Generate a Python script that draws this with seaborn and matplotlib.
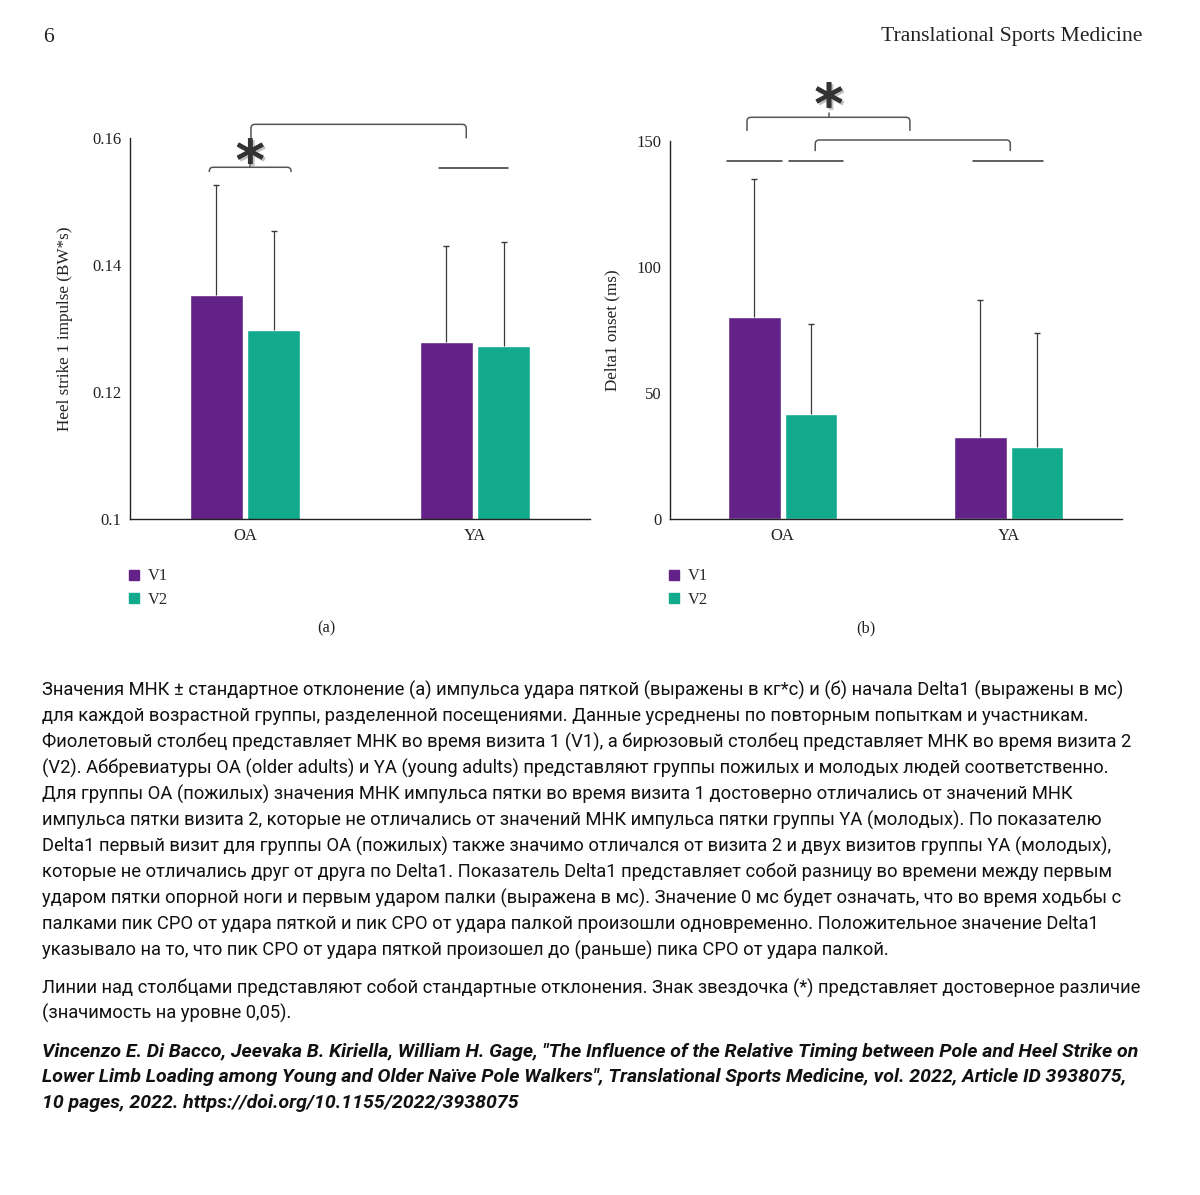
import numpy as np
import pandas as pd
import matplotlib
matplotlib.use("Agg")
import matplotlib.pyplot as plt
import seaborn as sns
from matplotlib.lines import Line2D
from matplotlib.path import Path
from matplotlib.patches import PathPatch
import matplotlib.patheffects as pe

# ---------------- data ----------------
groups = ["OA", "YA"]
visits = ["V1", "V2"]

impulse_v1 = [0.1352, 0.1278]
impulse_v2 = [0.1298, 0.1272]
impulse_sd_v1 = [0.0173, 0.0151]
impulse_sd_v2 = [0.0155, 0.0164]

delta_v1 = [80.1, 32.8]
delta_v2 = [41.6, 28.7]
delta_sd_v1 = [55.0, 54.2]
delta_sd_v2 = [35.8, 45.0]

yticks_a = [0.1, 0.12, 0.14, 0.16]
ytick_labels_a = ["0.1", "0.12", "0.14", "0.16"]
yticks_b = [0, 50, 100, 150]
ytick_labels_b = ["0", "50", "100", "150"]

ylabel_a = "Heel strike 1 impulse (BW*s)"
ylabel_b = "Delta1 onset (ms)"

# significance annotations (data coordinates): x0, x1, y_top, y_bottom
brackets_a = [(-0.155, 0.200, 0.15535, 0.1546), (0.026, 0.962, 0.1621, 0.1599)]
star_ticks_a = [(0.023, 0.15535, 0.1561)]
stars_a = [(0.023, 0.1558)]
plain_lines_a = [(0.843, 1.142, 0.1553)]

brackets_b = [(-0.158, 0.563, 159.4, 154.0), (0.144, 1.007, 150.4, 146.0)]
star_ticks_b = [(0.205, 159.4, 161.0)]
stars_b = [(0.205, 163.0)]
plain_lines_b = [(-0.245, -0.002, 142.0), (0.030, 0.267, 142.0), (0.843, 1.150, 142.0)]

caption_lines = [
    "Значения МНК ± стандартное отклонение (а) импульса удара пяткой (выражены в кг*с) и (б) начала Delta1 (выражены в мс)",
    "для каждой возрастной группы, разделенной посещениями. Данные усреднены по повторным попыткам и участникам.",
    "Фиолетовый столбец представляет МНК во время визита 1 (V1), а бирюзовый столбец представляет МНК во время визита 2",
    "(V2). Аббревиатуры OA (older adults) и YA (young adults) представляют группы пожилых и молодых людей соответственно.",
    "Для группы OA (пожилых) значения МНК импульса пятки во время визита 1 достоверно отличались от значений МНК",
    "импульса пятки визита 2, которые не отличались от значений МНК импульса пятки группы YA (молодых). По показателю",
    "Delta1 первый визит для группы OA (пожилых) также значимо отличался от визита 2 и двух визитов группы YA (молодых),",
    "которые не отличались друг от друга по Delta1. Показатель Delta1 представляет собой разницу во времени между первым",
    "ударом пятки опорной ноги и первым ударом палки (выражена в мс). Значение 0 мс будет означать, что во время ходьбы с",
    "палками пик СРО от удара пяткой и пик СРО от удара палкой произошли одновременно. Положительное значение Delta1",
    "указывало на то, что пик СРО от удара пяткой произошел до (раньше) пика СРО от удара палкой.",
    "Линии над столбцами представляют собой стандартные отклонения. Знак звездочка (*) представляет достоверное различие",
    "(значимость на уровне 0,05).",
]
citation_lines = [
    "Vincenzo E. Di Bacco, Jeevaka B. Kiriella, William H. Gage, \"The Influence of the Relative Timing between Pole and Heel Strike on",
    "Lower Limb Loading among Young and Older Naïve Pole Walkers\", Translational Sports Medicine, vol. 2022, Article ID 3938075,",
    "10 pages, 2022. https://doi.org/10.1155/2022/3938075",
]
header_left = "6"
header_right = "Translational Sports Medicine"

# ---------------- style ----------------
PURPLE = "#622287"
TEAL = "#12AA8D"
W, H = 1200, 1195

sns.set_style("white")
SERIF = ["Liberation Serif", "DejaVu Serif"]
SANS = ["Roboto", "DejaVu Sans"]
plt.rcParams["font.family"] = SERIF

fig = plt.figure(figsize=(W / 100, H / 100), dpi=100)


def fx(px):
    return px / W


def fy(py):
    return 1 - py / H


ax_a = fig.add_axes([fx(130), fy(519.3), fx(590) - fx(130), fy(137.7) - fy(519.3)])
ax_b = fig.add_axes([fx(669.7), fy(519.3), fx(1121.7) - fx(669.7), fy(141) - fy(519.3)])


def make_df(v1, v2):
    return pd.DataFrame({
        "group": groups * 2,
        "visit": [visits[0]] * 2 + [visits[1]] * 2,
        "value": list(v1) + list(v2),
    })


def draw_panel(ax, v1, v2, sd1, sd2, ylim, yticks, ylabels, ylabel, label_x):
    df = make_df(v1, v2)
    sns.barplot(data=df, x="group", y="value", hue="visit", order=groups, hue_order=visits,
                palette=[PURPLE, TEAL], saturation=1, width=0.5, gap=0.07,
                errorbar=None, legend=False, ax=ax)
    patches = sorted(ax.patches, key=lambda p: p.get_x())
    xs = np.array([p.get_x() + p.get_width() / 2 for p in patches])
    hs = np.array([p.get_height() for p in patches])
    sds = np.array([sd1[0], sd2[0], sd1[1], sd2[1]])
    _, caps, _ = ax.errorbar(xs, hs, yerr=[np.zeros_like(sds), sds], fmt="none",
                             ecolor="#3a3a3a", elinewidth=0.9, capsize=2.5, capthick=1.0,
                             zorder=3)
    for c in caps:
        if np.allclose(c.get_ydata(), hs):
            c.set_visible(False)
    ax.set_xlim(-0.5, 1.5)
    ax.set_ylim(*ylim)
    ax.set_yticks(yticks)
    ax.set_yticklabels(ylabels)
    ax.set_xlabel("")
    ax.set_ylabel(ylabel, fontsize=12.3, color="#222222")
    ax.yaxis.set_label_coords(label_x, 0.5)
    ax.tick_params(axis="both", length=0, labelsize=12, colors="#222222")
    ax.tick_params(axis="y", pad=6)
    ax.tick_params(axis="x", pad=6)
    for s in ["top", "right"]:
        ax.spines[s].set_visible(False)
    for s in ["left", "bottom"]:
        ax.spines[s].set_color("#222222")
        ax.spines[s].set_linewidth(1.0)


draw_panel(ax_a, impulse_v1, impulse_v2, impulse_sd_v1, impulse_sd_v2, (0.1, 0.16),
           yticks_a, ytick_labels_a, ylabel_a, (73 - 130) / 460)
draw_panel(ax_b, delta_v1, delta_v2, delta_sd_v1, delta_sd_v2, (0, 150),
           yticks_b, ytick_labels_b, ylabel_b, (620 - 669.7) / 452)


def px_to_data(ax, dx_px, dy_px):
    bb = ax.get_window_extent()
    x0, x1 = ax.get_xlim()
    y0, y1 = ax.get_ylim()
    return dx_px * (x1 - x0) / bb.width, dy_px * (y1 - y0) / bb.height


def draw_bracket(ax, x0, x1, ytop, ybot, color="#555555"):
    rx, ry = px_to_data(ax, 4, 4)
    ry = min(ry, (ytop - ybot) * 0.8)
    verts = [(x0, ybot), (x0, ytop - ry), (x0, ytop), (x0 + rx, ytop),
             (x1 - rx, ytop), (x1, ytop), (x1, ytop - ry), (x1, ybot)]
    codes = [Path.MOVETO, Path.LINETO, Path.CURVE3, Path.CURVE3,
             Path.LINETO, Path.CURVE3, Path.CURVE3, Path.LINETO]
    ax.add_patch(PathPatch(Path(verts, codes), fill=False, edgecolor=color, lw=1.1,
                           clip_on=False, zorder=4))


def annotate(ax, brackets, ticks, stars, lines):
    for b in brackets:
        draw_bracket(ax, *b)
    for (x, y0, y1) in ticks:
        ax.plot([x, x], [y0, y1], color="#555555", lw=1.1, clip_on=False, zorder=4)
    for (x0, x1, y) in lines:
        ax.plot([x0, x1], [y, y], color="#333333", lw=1.1, clip_on=False, zorder=4)
    for (x, y) in stars:
        ax.text(x, y, "*", ha="center", va="center", fontsize=40, fontweight="bold",
                family=["DejaVu Sans"], color="#333333", clip_on=False, zorder=5,
                path_effects=[pe.withSimplePatchShadow(offset=(1.5, -1.5), shadow_rgbFace="#999999", alpha=0.6),
                              pe.Normal()])


annotate(ax_a, brackets_a, star_ticks_a, stars_a, plain_lines_a)
annotate(ax_b, brackets_b, star_ticks_b, stars_b, plain_lines_b)

# legends
handles = [Line2D([], [], marker="s", linestyle="none", markersize=6.5, markerfacecolor=c,
                  markeredgecolor=c) for c in (PURPLE, TEAL)]
for xleft in (127, 667):
    fig.legend(handles, visits, loc="upper left", bbox_to_anchor=(fx(xleft), fy(568.5)),
               frameon=False, handlelength=0.8, handletextpad=0.5,
               labelspacing=0.45, borderpad=0, borderaxespad=0,
               prop={"family": SERIF, "size": 11.8})

fig.text(fx(326), fy(628), "(a)", ha="center", va="center", fontsize=11.8, color="#222222")
fig.text(fx(866), fy(628), "(b)", ha="center", va="center", fontsize=11.8, color="#222222")

# header
fig.text(fx(43), fy(37), header_left, ha="left", va="center", fontsize=15.6, color="#222222")
fig.text(fx(1142), fy(37), header_right, ha="right", va="center", fontsize=15.6, color="#222222")

# caption: size font so the lines span roughly the same width as the reference
probe = fig.text(0, 0, caption_lines[11], fontsize=12, family=SANS)
fig.canvas.draw()
wprobe = probe.get_window_extent().width
probe.remove()
cap_fs = 12 * 1093 / wprobe

cap_y = [690, 716, 742, 768, 794, 820, 846, 872, 898, 924, 950, 988, 1013]
for line, y in zip(caption_lines, cap_y):
    fig.text(fx(42), fy(y), line, ha="left", va="center", fontsize=cap_fs, family=SANS,
             color="#111111")

probe = fig.text(0, 0, citation_lines[0], fontsize=12, family=SANS, fontweight="bold",
                 fontstyle="italic")
fig.canvas.draw()
wprobe = probe.get_window_extent().width
probe.remove()
cit_fs = 12 * 1094 / wprobe
cit_y = [1052, 1077, 1103]
for line, y in zip(citation_lines, cit_y):
    fig.text(fx(42), fy(y), line, ha="left", va="center", fontsize=cit_fs, family=SANS,
             fontweight="bold", fontstyle="italic", color="#111111")

fig.savefig("out.png", dpi=100)
